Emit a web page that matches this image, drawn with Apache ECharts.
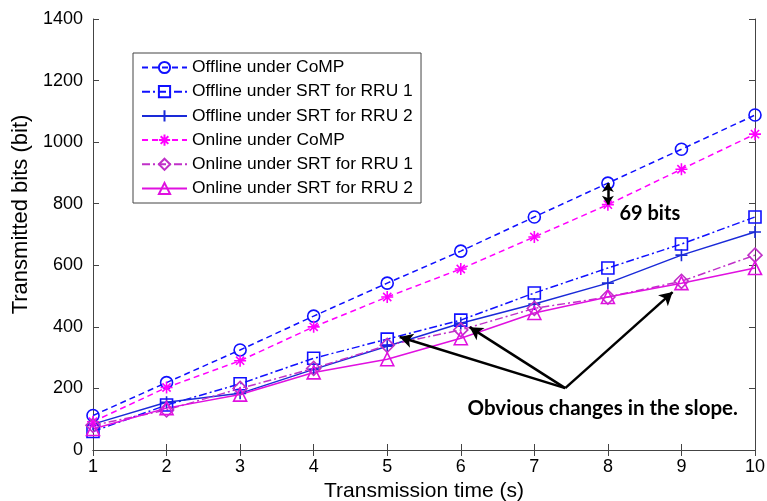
<!DOCTYPE html>
<html><head><meta charset="utf-8">
<script src="https://cdn.jsdelivr.net/npm/echarts@6/dist/echarts.min.js"></script>
<style>html,body{margin:0;padding:0;background:#fff}#c{width:767px;height:501px}</style>
</head><body><div id="c"></div>
<script>
// ---- data ----
const times = [1, 2, 3, 4, 5, 6, 7, 8, 9, 10];
const offlineCoMP = [112, 219, 325, 435, 542, 646, 757, 867, 977, 1088];
const offlineSRT1 = [60, 146, 215, 298, 360, 422, 510, 591, 669, 757];
const offlineSRT2 = [84, 155, 184, 262, 337, 412, 474, 542, 633, 708];
const onlineCoMP = [92, 203, 290, 400, 497, 588, 692, 797, 912, 1026];
const onlineSRT1 = [80, 130, 200, 265, 340, 390, 460, 497, 548, 633];
const onlineSRT2 = [68, 136, 180, 252, 295, 363, 445, 497, 542, 591];
const seriesNames = ['Offline under CoMP', 'Offline under SRT for RRU 1', 'Offline under SRT for RRU 2',
  'Online under CoMP', 'Online under SRT for RRU 1', 'Online under SRT for RRU 2'];
const xTickLabels = ['1','2','3','4','5','6','7','8','9','10'];
const yTickLabels = ['0','200','400','600','800','1000','1200','1400'];
// annotations (data coordinates)
const gapArrowEnds = [[8, 867], [8, 797]];
const gapLabel = { text: '69 bits', at: [8.57, 768] };
const slopeApex = [7.42, 201];
const slopeTargets = [[5.17, 367], [6.12, 399], [8.88, 513]];
const slopeLabel = { text: 'Obvious changes in the slope.', at: [7.93, 136] };

const pair = (ys) => times.map((t, i) => [t, ys[i]]);
const BLUE = '#1010ff', BLUE2 = '#1a2ad8', MAG = '#ff00ff', MAG2 = '#c030c8', MAG3 = '#e010e0';
const dashed = [6, 4], dashDot = [8, 3, 2, 3];
const plusPath = 'path://M0,5L10,5M5,0L5,10';
const starPath = 'path://M5,0L5,10M0,5L10,5M1.6,1.6L8.4,8.4M8.4,1.6L1.6,8.4';

function mk(name, ys, color, type, symbol, size) {
  return {
    name, type: 'line', data: pair(ys), symbol, symbolSize: size,
    lineStyle: { color, width: 1.5, type },
    itemStyle: { color: 'rgba(0,0,0,0)', borderColor: color, borderWidth: 1.6 },
    emphasis: { disabled: true }, animation: false, z: 3
  };
}
const series = [
  mk(seriesNames[0], offlineCoMP, BLUE, dashed, 'circle', 12),
  mk(seriesNames[1], offlineSRT1, BLUE, dashDot, 'rect', 12),
  mk(seriesNames[2], offlineSRT2, BLUE2, 'solid', plusPath, 12),
  mk(seriesNames[3], onlineCoMP, MAG, dashed, starPath, 12),
  mk(seriesNames[4], onlineSRT1, MAG2, dashDot, 'diamond', 14),
  mk(seriesNames[5], onlineSRT2, MAG3, 'solid', 'triangle', 13),
  {
    name: 'annotations', type: 'line', data: [], animation: false, silent: true,
    markLine: {
      silent: true, animation: false, symbol: ['none', 'arrow'], symbolSize: [11, 13],
      lineStyle: { color: '#000', width: 2.5, type: 'solid' }, label: { show: false },
      data: slopeTargets.map(t => [{ coord: slopeApex }, { coord: t }]).concat([
        [{ coord: gapArrowEnds[0], symbol: 'arrow', symbolSize: [9, 9] },
         { coord: gapArrowEnds[1], symbol: 'arrow', symbolSize: [9, 9] }]
      ])
    },
    markPoint: {
      silent: true, animation: false, symbol: 'circle', symbolSize: 1,
      itemStyle: { color: 'rgba(0,0,0,0)' },
      label: { show: true, position: 'inside', color: '#000', fontFamily: 'Lato', fontWeight: 'bold', fontSize: 20.5,
        formatter: p => p.name },
      data: [
        { name: gapLabel.text, coord: gapLabel.at, label: { fontSize: 20 } },
        { name: slopeLabel.text, coord: slopeLabel.at }
      ]
    }
  }
];

const axisLine = { show: true, lineStyle: { color: '#444', width: 1 } };
const tick = { show: true, inside: true, length: 6, lineStyle: { color: '#444' } };
const chart = echarts.init(document.getElementById('c'), null, { renderer: 'canvas' });
chart.setOption({
  animation: false,
  backgroundColor: '#fff',
  grid: { left: 93, right: 12, top: 19, bottom: 51, containLabel: false, outerBoundsMode: 'none' },
  legend: {
    data: seriesNames, orient: 'vertical', left: 133, top: 53,
    backgroundColor: '#fff', borderColor: '#444', borderWidth: 1, padding: [6, 8, 6, 8],
    itemWidth: 45, itemHeight: 14, itemGap: 7.2,
    textStyle: { fontFamily: 'Liberation Sans', fontSize: 17.4, color: '#000', lineHeight: 16 },
    selectedMode: false
  },
  xAxis: [
    { type: 'value', min: 1, max: 10, interval: 1, axisLine, axisTick: tick, splitLine: { show: false },
      axisLabel: { color: '#000', fontFamily: 'Liberation Sans', fontSize: 18, margin: 8,
        formatter: v => xTickLabels[Math.round(v) - 1] },
      name: 'Transmission time (s)', nameLocation: 'middle', nameGap: 29,
      nameTextStyle: { color: '#000', fontFamily: 'Liberation Sans', fontSize: 21 } },
    { type: 'value', position: 'top', min: 1, max: 10, interval: 1, axisLine, axisTick: tick,
      axisLabel: { show: false }, splitLine: { show: false } }
  ],
  yAxis: [
    { type: 'value', min: 0, max: 1400, interval: 200, axisLine, axisTick: tick, splitLine: { show: false },
      axisLabel: { color: '#000', fontFamily: 'Liberation Sans', fontSize: 18, margin: 10,
        formatter: v => yTickLabels[Math.round(v / 200)] },
      name: 'Transmitted bits (bit)', nameLocation: 'middle', nameGap: 58, nameRotate: 90,
      nameTextStyle: { color: '#000', fontFamily: 'Liberation Sans', fontSize: 22, padding: [0, 0, 0, 40] } },
    { type: 'value', position: 'right', min: 0, max: 1400, interval: 200, axisLine, axisTick: tick,
      axisLabel: { show: false }, splitLine: { show: false } }
  ],
  series
});
</script></body></html>
